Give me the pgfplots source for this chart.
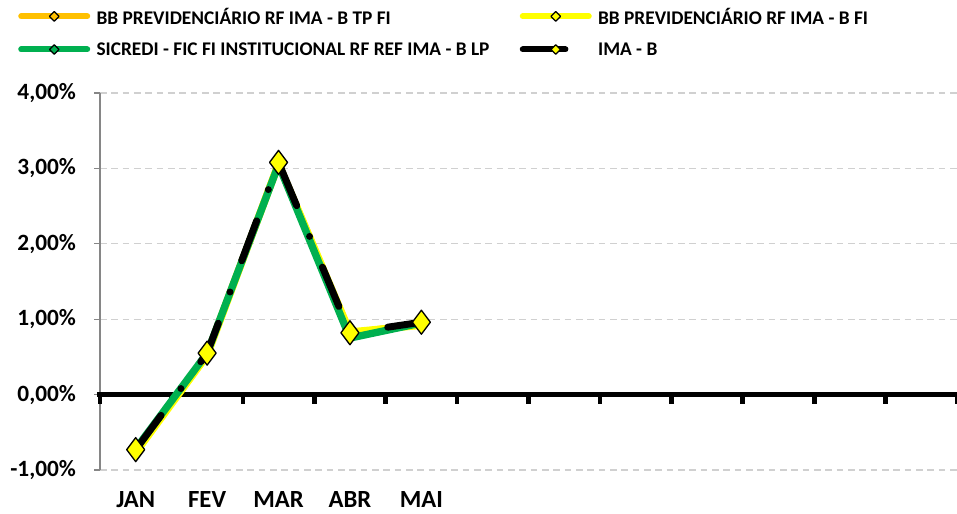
\documentclass[border=0pt]{standalone}
\usepackage{pgfplots}
\pgfplotsset{compat=1.18}
\usepackage{fontspec}
\setmainfont{Carlito}

\definecolor{TPColor}{HTML}{FFC000}
\definecolor{FIColor}{HTML}{FFFF00}
\definecolor{SicColor}{HTML}{00B050}
\definecolor{GridColor}{HTML}{D0D0D0}
\definecolor{AxisGray}{HTML}{868686}

% legend image: thick line with a small diamond in it
\newcommand{\legline}[3]{%
  \draw[line width=4.5pt, line cap=round, color=#1] (2.25pt,0pt) -- (#3,0pt);
  \draw[fill=#2, draw=black, line width=0.9pt] (27pt,3.6pt) -- (30.6pt,0pt) -- (27pt,-3.6pt) -- (23.4pt,0pt) -- cycle;
  \path (0pt,0pt) (54pt,0pt);
}

\begin{document}
\begin{tikzpicture}
\path[use as bounding box] (0,0) rectangle (717.75pt,385.5pt);
\begin{axis}[
  at={(75pt,33pt)}, anchor=south west,
  scale only axis,
  width=642.75pt, height=282.75pt,
  xmin=0, xmax=12, ymin=-1, ymax=4,
  clip=false,
  axis lines*=left,
  x axis line style={draw=none},
  y axis line style={draw=AxisGray, line width=1pt},
  xtick={0.5,1.5,2.5,3.5,4.5},
  xticklabels={JAN,FEV,MAR,ABR,MAI},
  x tick style={draw=none},
  xticklabel style={font=\fontsize{18.5}{20}\selectfont\bfseries, anchor=north,
    yshift=-11.5pt, inner sep=0pt, text depth=0pt},
  ytick={-1,0,1,2,3,4},
  yticklabels={{-1,00\%},{0,00\%},{1,00\%},{2,00\%},{3,00\%},{4,00\%}},
  yticklabel style={font=\fontsize{17.5}{19}\selectfont\bfseries, xshift=-10pt},
  y tick style={draw=AxisGray, line width=1pt},
  tick align=outside,
  major tick length=4.5pt,
  ymajorgrids=true,
  grid style={draw=GridColor, line width=1pt, dash pattern=on 5pt off 3.5pt},
  legend columns=2,
  legend cell align=left,
  legend style={
    at={(-0.1,1.2255)}, anchor=north west,
    draw=none, fill=none, inner sep=0pt,
    font=\fontsize{14.5}{16}\selectfont\bfseries,
    row sep=14pt,
    nodes={inner sep=0pt, text depth=0pt},
    /tikz/every even column/.append style={column sep=20pt},
    /tikz/every odd column/.append style={column sep=2pt},
  },
]
% thick zero line with category ticks
\draw[line width=4pt] (axis cs:-0.04,0) -- (axis cs:12,0);
\pgfplotsinvokeforeach{0,...,12}{
  \draw[line width=3.5pt] (axis cs:#1,0) -- ++(0pt,-7pt);
}

\addplot[TPColor, line width=5.5pt, line join=round,
  legend image code/.code={\legline{TPColor}{TPColor}{51.75pt}}]
  coordinates {(0.5,-0.74) (1.5,0.54) (2.5,3.06) (3.5,0.81) (4.5,0.94)};
\addlegendentry{BB PREVIDENCIÁRIO RF IMA - B TP FI}

\addplot[FIColor, line width=5.5pt, line join=round,
  legend image code/.code={\legline{FIColor}{FIColor}{51.75pt}}]
  coordinates {(0.5,-0.77) (1.5,0.52) (2.5,3.06) (3.5,0.83) (4.5,0.92)};
\addlegendentry{BB PREVIDENCIÁRIO RF IMA - B FI}

\addplot[SicColor, line width=5.5pt, line join=round,
  legend image code/.code={\legline{SicColor}{SicColor}{51.75pt}}]
  coordinates {(0.5,-0.72) (1.5,0.55) (2.5,3.05) (3.5,0.75) (4.5,0.95)};
\addlegendentry{SICREDI - FIC FI INSTITUCIONAL RF REF IMA - B LP}

\addplot[black, line width=5.2pt, line cap=round, line join=round,
  dash pattern=on 32pt off 25pt on 0pt off 25pt,
  mark=diamond*, mark size=9pt,
  mark options={solid, fill=FIColor, draw=black, line width=1pt},
  legend image code/.code={\legline{black}{FIColor}{36.75pt}}]
  coordinates {(0.5,-0.73) (1.5,0.55) (2.5,3.08) (3.5,0.82) (4.5,0.96)};
\addlegendentry{IMA - B}
\end{axis}
\end{tikzpicture}
\end{document}
